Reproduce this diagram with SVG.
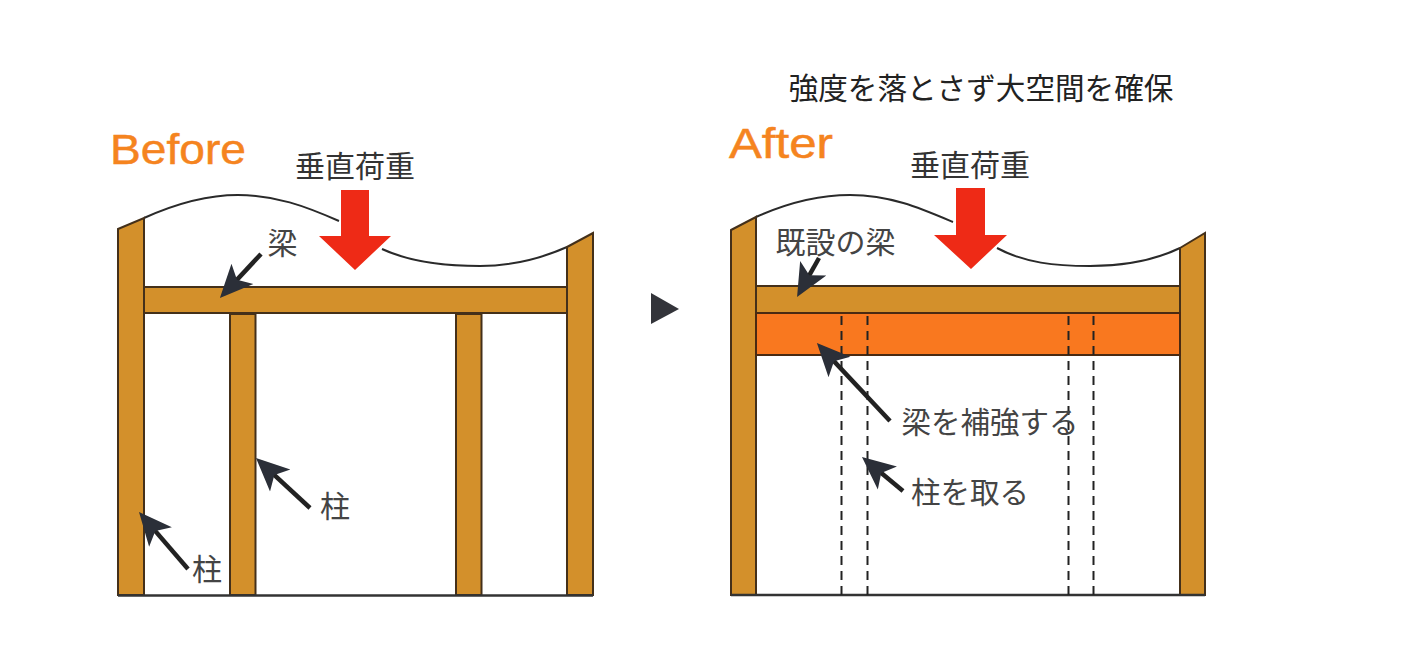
<svg xmlns="http://www.w3.org/2000/svg" width="1416" height="672" viewBox="0 0 1416 672">
<style>
.wood{fill:#d3902b;stroke:#44301a;stroke-width:2}
.reinf{fill:#f9781f;stroke:#4a2a12;stroke-width:2}
.base{fill:none;stroke:#333;stroke-width:2.500}
.wave{fill:none;stroke:#2a2a2a;stroke-width:2}
.load{fill:#ee2a16}
.lead{fill:none;stroke:#222;stroke-width:4.500;marker-end:url(#head)}
.dash{fill:none;stroke:#222;stroke-width:2;stroke-dasharray:9 6}
text{font-family:"Noto Sans CJK JP","Noto Sans",sans-serif;fill:#333;text-anchor:middle;font-size:30px}
.t{font-size:29.6px;fill:#222}
.lab{fill:#444}
.lab2{fill:#444;font-size:29.500px}
.en{font-family:"Liberation Sans","Arial",sans-serif;fill:#f5841f;stroke:#f5841f;stroke-width:.5;font-size:42px;text-anchor:start}
</style>
<defs>
<marker id="head" markerUnits="userSpaceOnUse" markerWidth="38" markerHeight="38" refX="27" refY="17" orient="auto" viewBox="0 0 38 34">
<path d="M33 17 L0 2 L8 17 L0 32 Z" fill="#2b2f38"/>
</marker>
</defs>
<rect width="1416" height="672" fill="#fff"/>
<g id="before-frame">
<path class="wave" d="M144 218C175 204 205 195 238 195C275 195 305 206 339 221"/>
<path class="wave" d="M382 249C410 262 445 266 480 266C512 266 540 259 567 247"/>
<path class="wood" d="M118 229L144 218V595H118Z"/>
<path class="wood" d="M567 247L593 233V595H567Z"/>
<rect class="wood" x="144" y="287" width="423" height="26"/>
<rect class="wood" x="230" y="314" width="25.500" height="281"/>
<rect class="wood" x="456" y="314" width="25.500" height="281"/>
<path class="base" d="M118 595.500H593"/>
</g>
<g id="before-load">
<path class="load" d="M341 190H369V236H391L355 270L319 236H341Z"/>
<text x="355" y="177">垂直荷重</text>
</g>
<g id="before-title"><text class="en" x="110" y="164" textLength="136" lengthAdjust="spacingAndGlyphs">Before</text></g>
<g id="after-frame">
<path class="wave" d="M756 217C785 204 815 195 850 195C890 195 920 208 953 222"/>
<path class="wave" d="M997 248C1025 263 1055 266 1090 266C1125 266 1155 260 1180 248"/>
<path class="wood" d="M731 230L756 217V595H731Z"/>
<path class="wood" d="M1180 248L1205 233V595H1180Z"/>
<rect class="wood" x="756" y="286" width="424" height="27"/>
<rect class="reinf" x="756" y="313" width="424" height="42"/>
<path class="base" d="M731 595H1205"/>
</g>
<g id="after-removed-posts">
<path class="dash" d="M841.500 316V595M867.500 316V595M1068.500 316V595M1093.500 316V595"/>
</g>
<g id="after-load">
<path class="load" d="M956 188H985V235H1007L971 269L934 235H956Z"/>
<text x="970" y="176">垂直荷重</text>
</g>
<g id="after-title"><text class="en" x="729" y="158" textLength="104" lengthAdjust="spacingAndGlyphs">After</text></g>
<g id="caption"><text class="t" x="981" y="99">強度を落とさず大空間を確保</text></g>
<g id="next-marker"><path d="M651 293L679 309L651 324Z" fill="#33343a"/></g>
<g id="labels">
<text class="lab" x="282.500" y="254">梁</text>
<text class="lab" x="335" y="517">柱</text>
<text class="lab" x="207" y="580">柱</text>
<text class="lab" x="835.500" y="253">既設の梁</text>
<text class="lab2" x="990" y="433">梁を補強する</text>
<text class="lab2" x="970" y="503">柱を取る</text>
</g>
<g id="connectors">
<path class="lead" d="M261 254L224 293.600"/>
<path class="lead" d="M310 508L260.400 462.100"/>
<path class="lead" d="M188 569L142.900 516.600"/>
<path class="lead" d="M819 258L800 291.800"/>
<path class="lead" d="M890 421L821 347.400"/>
<path class="lead" d="M903 491L866.600 460.800"/>
</g>
</svg>
